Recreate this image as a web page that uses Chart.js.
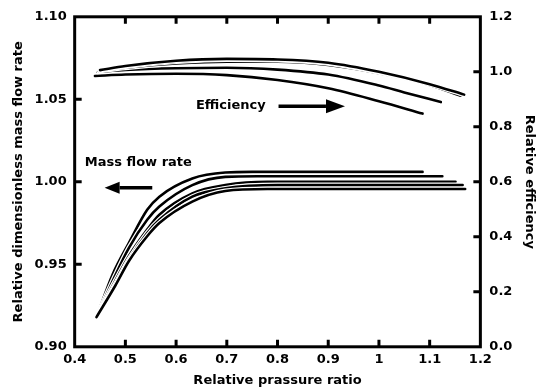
<!DOCTYPE html>
<html lang="en">
<head>
  <meta charset="UTF-8">
  <title>Relative mass flow rate and efficiency</title>
  <script src="https://cdn.jsdelivr.net/npm/chart.js"></script>
  <style>
    html, body { margin: 0; padding: 0; background: #fff; }
    #wrap { width: 547px; height: 388px; }
  </style>
</head>
<body>
<div id="wrap"><canvas id="chart"></canvas></div>
<script>
// x = relative pressure ratio, y = value (left axis for mass flow, right axis for efficiency)
const massCurve1 = [[0.443,0.918],[0.475,0.944],[0.507,0.963],[0.543,0.983],[0.567,0.991],[0.632,1.002],[0.697,1.0056],[0.75,1.006],[1.086,1.006]];
const massCurve2 = [[0.443,0.918],[0.478,0.942],[0.507,0.960],[0.543,0.977],[0.567,0.985],[0.632,0.998],[0.697,1.003],[0.76,1.0034],[1.125,1.0034]];
const massCurve3 = [[0.443,0.918],[0.48,0.940],[0.507,0.955],[0.543,0.971],[0.567,0.980],[0.632,0.993],[0.697,0.998],[0.78,1.0],[1.151,1.0]];
const massCurve4 = [[0.443,0.918],[0.48,0.938],[0.507,0.953],[0.543,0.969],[0.567,0.977],[0.632,0.991],[0.697,0.996],[0.8,0.998],[1.165,0.998]];
const massCurve5 = [[0.443,0.918],[0.48,0.937],[0.507,0.952],[0.543,0.967],[0.567,0.975],[0.632,0.988],[0.697,0.9944],[0.78,0.9956],[1.17,0.9956]];

const effCurve1 = [[0.44,0.985],[0.5,0.99],[0.6,0.993],[0.7,0.988],[0.8,0.97],[0.9,0.94],[1.0,0.893],[1.086,0.848]];
const effCurve2 = [[0.445,1.0],[0.5,1.007],[0.6,1.013],[0.7,1.015],[0.8,1.008],[0.9,0.99],[1.0,0.95],[1.05,0.925],[1.122,0.89]];
const effCurve3 = [[0.447,1.003],[0.5,1.015],[0.6,1.03],[0.7,1.037],[0.8,1.037],[0.9,1.025],[1.0,0.995],[1.1,0.952],[1.151,0.922]];
const effCurve4 = [[0.449,1.005],[0.5,1.019],[0.6,1.037],[0.7,1.045],[0.8,1.043],[0.9,1.031],[1.0,0.998],[1.1,0.952],[1.161,0.913]];
const effCurve5 = [[0.45,1.006],[0.5,1.021],[0.6,1.04],[0.7,1.047],[0.8,1.045],[0.9,1.033],[1.0,1.0],[1.1,0.955],[1.168,0.917]];

const xTicks = [0.4, 0.5, 0.6, 0.7, 0.8, 0.9, 1.0, 1.1, 1.2];
const leftTicks = [0.90, 0.95, 1.00, 1.05, 1.10];
const rightTicks = [0.0, 0.2, 0.4, 0.6, 0.8, 1.0, 1.2];

const font = 'DejaVu Sans';
const toXY = arr => arr.map(p => ({ x: p[0], y: p[1] }));

const curves = [
  { data: massCurve1, axis: 'y' }, { data: massCurve2, axis: 'y' }, { data: massCurve3, axis: 'y' },
  { data: massCurve4, axis: 'y' }, { data: massCurve5, axis: 'y' },
  { data: effCurve1, axis: 'y1' }, { data: effCurve2, axis: 'y1' }, { data: effCurve3, axis: 'y1' },
  { data: effCurve4, axis: 'y1' }, { data: effCurve5, axis: 'y1' }
];

// each curve gets a white halo underneath, later curves drawn on top
const datasets = [];
let ord = 100;
curves.forEach(c => {
  datasets.push({ data: toXY(c.data), yAxisID: c.axis, borderColor: '#fff', borderWidth: 5,
    pointRadius: 0, cubicInterpolationMode: 'monotone', order: ord--, borderCapStyle: 'round' });
  datasets.push({ data: toXY(c.data), yAxisID: c.axis, borderColor: '#000', borderWidth: 2.6,
    pointRadius: 0, cubicInterpolationMode: 'monotone', order: ord--, borderCapStyle: 'round' });
});

const frame = {
  id: 'frame',
  afterDatasetsDraw(chart) {
    const { ctx, chartArea: a, scales } = chart;
    ctx.save();
    ctx.strokeStyle = '#000';
    ctx.lineWidth = 3;
    ctx.strokeRect(a.left, a.top, a.right - a.left, a.bottom - a.top);
    const len = 7;
    ctx.beginPath();
    xTicks.slice(1, -1).forEach(v => {
      const px = scales.x.getPixelForValue(v);
      ctx.moveTo(px, a.bottom); ctx.lineTo(px, a.bottom - len);
      ctx.moveTo(px, a.top); ctx.lineTo(px, a.top + len);
    });
    leftTicks.slice(1, -1).forEach(v => {
      const py = scales.y.getPixelForValue(v);
      ctx.moveTo(a.left, py); ctx.lineTo(a.left + len, py);
    });
    rightTicks.slice(1, -1).forEach(v => {
      const py = scales.y1.getPixelForValue(v);
      ctx.moveTo(a.right, py); ctx.lineTo(a.right - len, py);
    });
    ctx.stroke();

    // annotations
    const arrow = (x0, x1, y, head, half) => {
      const p0 = scales.x.getPixelForValue(x0), p1 = scales.x.getPixelForValue(x1);
      const py = scales.y.getPixelForValue(y);
      const dir = Math.sign(p1 - p0);
      ctx.beginPath();
      ctx.lineWidth = 3.5;
      ctx.moveTo(p0, py); ctx.lineTo(p1 - dir * head, py);
      ctx.stroke();
      ctx.beginPath();
      ctx.moveTo(p1, py);
      ctx.lineTo(p1 - dir * head, py - half);
      ctx.lineTo(p1 - dir * head, py + half);
      ctx.closePath();
      ctx.fill();
    };
    ctx.fillStyle = '#000';
    ctx.font = 'bold 13px "' + font + '"';
    ctx.textBaseline = 'middle';
    ctx.textAlign = 'left';
    ctx.fillText('Efficiency', scales.x.getPixelForValue(0.639), scales.y.getPixelForValue(1.046));
    arrow(0.802, 0.933, 1.0458, 19, 7);
    ctx.fillText('Mass flow rate', scales.x.getPixelForValue(0.42), scales.y.getPixelForValue(1.0116));
    arrow(0.553, 0.459, 0.9964, 15, 6);
    ctx.restore();
  }
};

new Chart(document.getElementById('chart'), {
  type: 'line',
  data: { datasets },
  plugins: [frame],
  options: {
    responsive: true,
    maintainAspectRatio: false,
    animation: false,
    layout: { padding: { top: 5, right: 0, bottom: 0, left: 11 } },
    plugins: { legend: { display: false }, tooltip: { enabled: false } },
    scales: {
      x: {
        type: 'linear', min: 0.4, max: 1.2,
        afterBuildTicks: s => { s.ticks = xTicks.map(v => ({ value: v })); },
        grid: { display: false, drawTicks: false }, border: { display: false },
        ticks: { color: '#000', padding: 5, font: { family: font, size: 13, weight: 'bold' },
          maxRotation: 0, callback: v => String(+v.toFixed(1)) },
        title: { display: true, text: 'Relative prassure ratio', color: '#000',
          font: { family: font, size: 13, weight: 'bold' }, padding: { top: 0, bottom: 0 } }
      },
      y: {
        type: 'linear', position: 'left', min: 0.9, max: 1.1,
        afterBuildTicks: s => { s.ticks = leftTicks.map(v => ({ value: v })); },
        grid: { display: false, drawTicks: false }, border: { display: false },
        ticks: { color: '#000', padding: 8, font: { family: font, size: 13, weight: 'bold' },
          callback: v => v.toFixed(2) },
        title: { display: true, text: 'Relative dimensionless mass flow rate', color: '#000',
          font: { family: font, size: 13, weight: 'bold' }, padding: { top: 0, bottom: 0 } }
      },
      y1: {
        type: 'linear', position: 'right', min: 0, max: 1.2,
        afterBuildTicks: s => { s.ticks = rightTicks.map(v => ({ value: v })); },
        grid: { display: false, drawTicks: false }, border: { display: false },
        ticks: { color: '#000', padding: 9, font: { family: font, size: 13, weight: 'bold' },
          callback: v => v.toFixed(1) },
        title: { display: true, text: 'Relative efficiency', color: '#000',
          font: { family: font, size: 13, weight: 'bold' }, padding: { top: 10, bottom: 0 } }
      }
    }
  }
});
</script>
</body>
</html>
